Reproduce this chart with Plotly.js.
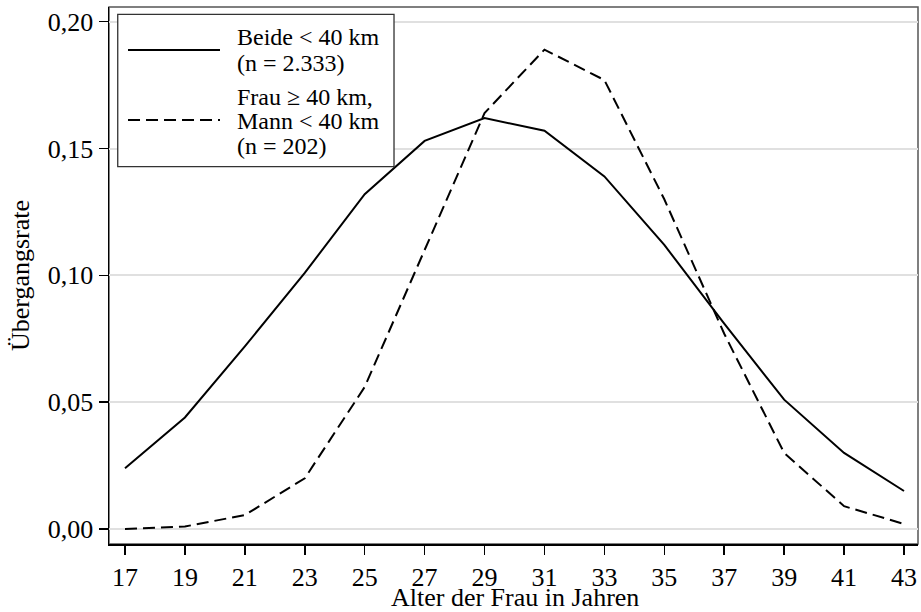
<!DOCTYPE html>
<html>
<head>
<meta charset="utf-8">
<script src="https://cdn.plot.ly/plotly-3.0.1.min.js"></script>
<style>
html,body{margin:0;padding:0;background:#fff;}
#chart{width:921px;height:612px;}
</style>
</head>
<body>
<div id="chart"></div>
<script>
// Data
const ages = [17, 19, 21, 23, 25, 27, 29, 31, 33, 35, 37, 39, 41, 43];
const beideUnter40 = [0.024, 0.044, 0.072, 0.101, 0.132, 0.153, 0.162, 0.157, 0.139, 0.112, 0.081, 0.051, 0.030, 0.015];
const frauUeber40 = [0.000, 0.001, 0.0055, 0.020, 0.056, 0.110, 0.164, 0.189, 0.177, 0.130, 0.077, 0.030, 0.009, 0.002];
const yTicks = [0, 0.05, 0.10, 0.15, 0.20];
const seriesNames = ["Beide < 40 km", "Frau ≥ 40 km, Mann < 40 km"];
const legendLines1 = ["Beide < 40 km", "(n = 2.333)"];
const legendLines2 = ["Frau ≥ 40 km,", "Mann < 40 km", "(n = 202)"];
const xTitle = "Alter der Frau in Jahren";
const yTitle = "Übergangsrate";

const FONT = "'Liberation Serif', 'Times New Roman', serif";

const traces = [
  {x: ages, y: beideUnter40, name: seriesNames[0], type: "scatter", mode: "lines",
   line: {color: "#000", width: 2}},
  {x: ages, y: frauUeber40, name: seriesNames[1], type: "scatter", mode: "lines",
   line: {color: "#000", width: 2, dash: "12px,6px"}}
];

// legend geometry (paper coords)
const lx0 = 0.0108, lx1 = 0.3523, ly0 = 0.7026, ly1 = 0.9864;
const lineX0 = 0.0235, lineX1 = 0.1372, textX = 0.1557;
const ySolid = 0.9199, yDash = 0.7896;
const y1Lines = [0.9440, 0.8960];
const y2Lines = [0.8330, 0.7870, 0.7420];

const shapes = [
  {type: "rect", xref: "paper", yref: "paper", x0: 0, x1: 1, y0: 0, y1: 1,
   line: {color: "#555", width: 1.5}, layer: "below"},
  {type: "rect", xref: "paper", yref: "paper", x0: lx0, x1: lx1, y0: ly0, y1: ly1,
   line: {color: "#333", width: 1.3}, fillcolor: "#fff", layer: "above"},
  {type: "line", xref: "paper", yref: "paper", x0: lineX0, x1: lineX1, y0: ySolid, y1: ySolid,
   line: {color: "#000", width: 2}},
  {type: "line", xref: "paper", yref: "paper", x0: lineX0, x1: lineX1, y0: yDash, y1: yDash,
   line: {color: "#000", width: 2, dash: "12px,6px"}}
];

const annotations = [];
legendLines1.forEach((t, i) => annotations.push({
  xref: "paper", yref: "paper", x: textX, y: y1Lines[i], xanchor: "left", yanchor: "middle",
  text: t, showarrow: false, font: {family: FONT, size: 24, color: "#000"}
}));
legendLines2.forEach((t, i) => annotations.push({
  xref: "paper", yref: "paper", x: textX, y: y2Lines[i], xanchor: "left", yanchor: "middle",
  text: t, showarrow: false, font: {family: FONT, size: 24, color: "#000"}
}));
// x-axis title
annotations.push({
  xref: "paper", yref: "paper", x: 0.502, y: -0.1005, xanchor: "center", yanchor: "middle",
  text: xTitle, showarrow: false, font: {family: FONT, size: 26, color: "#000"}
});

const layout = {
  width: 921, height: 612,
  margin: {l: 109, r: 3, t: 7, b: 68},
  paper_bgcolor: "#fff", plot_bgcolor: "#fff",
  separators: ",.",
  showlegend: false,
  font: {family: FONT, size: 26, color: "#000"},
  xaxis: {
    range: [16.466, 43.467],
    tickvals: ages,
    ticks: "outside", ticklen: 9, tickwidth: 1.5, tickcolor: "#000",
    showline: true, linecolor: "#000", linewidth: 1.5,
    showgrid: false, zeroline: false,
    tickfont: {family: FONT, size: 26, color: "#000"}
  },
  yaxis: {
    range: [-0.0059, 0.2058],
    tickvals: yTicks,
    tickformat: ".2f",
    ticks: "outside", ticklen: 9, tickwidth: 1.5, tickcolor: "#000",
    showline: true, linecolor: "#000", linewidth: 1.5,
    showgrid: true, gridcolor: "#e0e0e0", gridwidth: 2,
    zeroline: false,
    tickfont: {family: FONT, size: 26, color: "#000"},
    title: {text: yTitle, font: {family: FONT, size: 26, color: "#000"}, standoff: 10}
  },
  shapes: shapes,
  annotations: annotations
};

Plotly.newPlot("chart", traces, layout, {displayModeBar: false, staticPlot: true});
</script>
</body>
</html>
